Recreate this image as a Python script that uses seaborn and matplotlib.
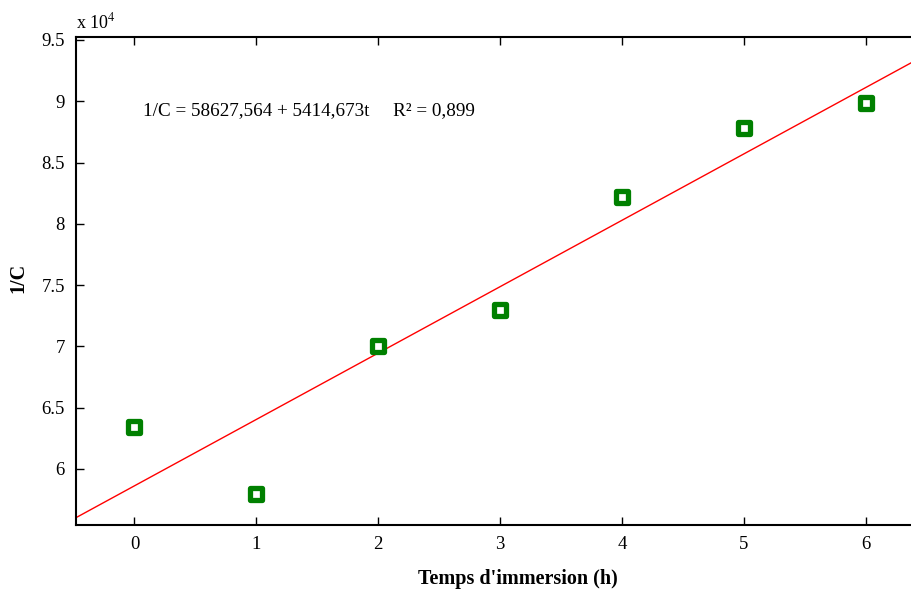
import numpy as np
import pandas as pd
import matplotlib
matplotlib.use("Agg")
import matplotlib.pyplot as plt
import seaborn as sns
from matplotlib.ticker import FuncFormatter

# Data
temps = [0, 1, 2, 3, 4, 5, 6]
inv_c = [63430, 57960, 70030, 72970, 82190, 87810, 89850]
intercept = 58627.564
slope = 5414.673
equation = "1/C = 58627,564 + 5414,673t     R² = 0,899"
x_ticks = [0, 1, 2, 3, 4, 5, 6]
y_ticks = [60000, 65000, 70000, 75000, 80000, 85000, 90000, 95000]

sns.set_theme(style="white")
plt.rcParams['font.family'] = ['Liberation Serif', 'DejaVu Serif']
plt.rcParams['mathtext.fontset'] = 'stix'
plt.rcParams['text.color'] = 'black'
plt.rcParams['axes.labelcolor'] = 'black'
plt.rcParams['xtick.color'] = 'black'
plt.rcParams['ytick.color'] = 'black'

fig = plt.figure(figsize=(9.12, 5.97), dpi=100)
ax = fig.add_axes([76/912, 72/597, 1 - 76/912, (525-37)/597])

xlim = (-0.48, 6.38)
ylim = (55430, 95240)

fit_x = np.array(xlim)
fit_df = pd.DataFrame({"t": fit_x, "y": intercept + slope * fit_x})
sns.lineplot(data=fit_df, x="t", y="y", ax=ax, color="#ff0000", linewidth=1.0)

df = pd.DataFrame({"t": temps, "y": inv_c})
sns.scatterplot(data=df, x="t", y="y", ax=ax, marker="s", s=80,
                facecolor="white", edgecolor="#008000", linewidth=3.8, zorder=5)

ax.set_xlim(*xlim)
ax.set_ylim(*ylim)
ax.set_xticks(x_ticks)
ax.set_yticks(y_ticks)
ax.yaxis.set_major_formatter(FuncFormatter(lambda v, p: f"{v/1e4:g}"))
ax.tick_params(direction="in", length=6, width=1, labelsize=13.5,
               top=True, bottom=True, left=True, right=False, pad=8)
for s in ["left", "bottom", "top"]:
    ax.spines[s].set_color("black")
    ax.spines[s].set_linewidth(1.5)
ax.spines["right"].set_visible(False)

ax.set_xlabel("Temps d'immersion (h)", fontsize=14.5, fontweight="bold")
ax.set_ylabel("1/C", fontsize=14.5, fontweight="bold")
ax.xaxis.set_label_coords((518-76)/836, -(569-525)/488)
ax.yaxis.set_label_coords(-(76-28)/836, (525-278)/488)

fig.text(143/912, 1 - 111/597, equation, fontsize=13.8, ha="left", va="center")
fig.text(76/912, 1 - 22/597, r"x 10$^{4}$", fontsize=13, ha="left", va="center")

fig.savefig("out.png", dpi=100)
